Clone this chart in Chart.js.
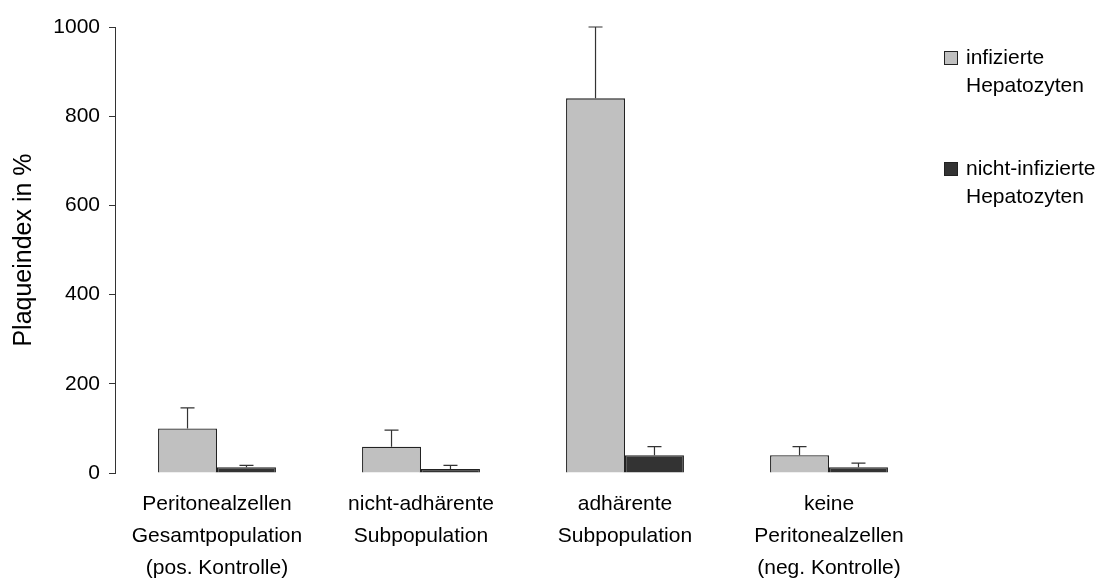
<!DOCTYPE html>
<html lang="de">
<head>
<meta charset="utf-8">
<title>Plaqueindex</title>
<script src="https://cdn.jsdelivr.net/npm/chart.js@4/dist/chart.umd.min.js"></script>
<style>
  html, body { margin: 0; padding: 0; background: #fff; }
  #wrap { position: relative; width: 1104px; height: 578px; }
  #chart { position: absolute; left: 0; top: 0; }
  .legend { position: absolute; left: 944px; font: 21px 'Liberation Sans', Arial, sans-serif; color: #000; }
  .legend .box { position: absolute; left: 0; width: 14px; height: 14px; border: 1px solid #222; box-sizing: border-box; }
  .legend .txt { position: absolute; left: 22px; line-height: 28px; white-space: nowrap; }
</style>
</head>
<body>
<div id="wrap">
  <canvas id="chart" width="1104" height="578"></canvas>
  <div id="legend"></div>
</div>
<script>
// Gruppen (x-Achse), mehrzeilig
const categories = [
  ['Peritonealzellen', 'Gesamtpopulation', '(pos. Kontrolle)'],
  ['nicht-adhärente', 'Subpopulation'],
  ['adhärente', 'Subpopulation'],
  ['keine', 'Peritonealzellen', '(neg. Kontrolle)'],
];
const yTicks = [0, 200, 400, 600, 800, 1000];

// Plaqueindex in %, Mittelwert und Standardabweichung (nur nach oben)
const infiziert = [100, 59, 840, 40];
const infiziertSD = [46, 37, 160, 19];
const nichtInfiziert = [13, 9, 40, 13];
const nichtInfiziertSD = [4, 8, 19, 9];

const seriesLabels = [['infizierte', 'Hepatozyten'], ['nicht-infizierte', 'Hepatozyten']];
const seriesColors = ['#c0c0c0', '#333333'];

Chart.defaults.font.family = "'Liberation Sans', Arial, sans-serif";
Chart.defaults.color = '#000';

// Fehlerbalken: senkrechte Linie ab Balkenoberkante plus Querstrich
const errorBars = {
  id: 'errorBars',
  afterDatasetsDraw(chart) {
    const { ctx, scales: { y } } = chart;
    ctx.save();
    ctx.strokeStyle = '#333';
    ctx.lineWidth = 1.2;
    chart.data.datasets.forEach((ds, i) => {
      const meta = chart.getDatasetMeta(i);
      meta.data.forEach((bar, j) => {
        const top = y.getPixelForValue(ds.data[j] + ds.errors[j]);
        ctx.beginPath();
        ctx.moveTo(bar.x, bar.y);
        ctx.lineTo(bar.x, top);
        ctx.moveTo(bar.x - 7, top);
        ctx.lineTo(bar.x + 7, top);
        ctx.stroke();
      });
    });
    ctx.restore();
  },
};

const chart = new Chart(document.getElementById('chart'), {
  type: 'bar',
  data: {
    labels: categories,
    datasets: [
      {
        label: seriesLabels[0].join(' '),
        data: infiziert,
        errors: infiziertSD,
        backgroundColor: seriesColors[0],
        borderColor: '#222',
        borderWidth: 1.3,
      },
      {
        label: seriesLabels[1].join(' '),
        data: nichtInfiziert,
        errors: nichtInfiziertSD,
        backgroundColor: seriesColors[1],
        borderColor: '#222',
        borderWidth: 1.3,
      },
    ],
  },
  options: {
    responsive: false,
    animation: false,
    categoryPercentage: 0.578,
    barPercentage: 1,
    layout: { padding: { left: 0, top: 27, right: 173, bottom: 0 } },
    plugins: {
      legend: { display: false },
      tooltip: { enabled: false },
    },
    scales: {
      x: {
        grid: { display: false, drawTicks: false },
        border: { display: false },
        ticks: { font: { size: 21, lineHeight: 32 / 21 }, padding: 15, maxRotation: 0, autoSkip: false },
        afterFit(scale) { scale.height = 105; },
      },
      y: {
        min: 0,
        max: 1000,
        afterBuildTicks(scale) { scale.ticks = yTicks.map(v => ({ value: v })); },
        grid: { drawOnChartArea: false, drawTicks: true, tickLength: 6, color: '#333' },
        border: { display: true, color: '#333', width: 1 },
        ticks: { font: { size: 21 }, padding: 9, callback: v => String(v) },
        title: { display: true, text: 'Plaqueindex in %', font: { size: 25 }, padding: { top: 9, bottom: 0 } },
        afterFit(scale) { scale.width = 115; },
      },
    },
  },
  plugins: [errorBars],
});

// Legende rechts, zweizeilig
const legendTops = [43, 154];
const legend = document.getElementById('legend');
seriesLabels.forEach((lines, i) => {
  const item = document.createElement('div');
  item.className = 'legend';
  item.style.top = legendTops[i] + 'px';
  const box = document.createElement('div');
  box.className = 'box';
  box.style.top = '8px';
  box.style.background = chart.data.datasets[i].backgroundColor;
  const txt = document.createElement('div');
  txt.className = 'txt';
  txt.innerHTML = lines.join('<br>');
  item.appendChild(box);
  item.appendChild(txt);
  legend.appendChild(item);
});
</script>
</body>
</html>
